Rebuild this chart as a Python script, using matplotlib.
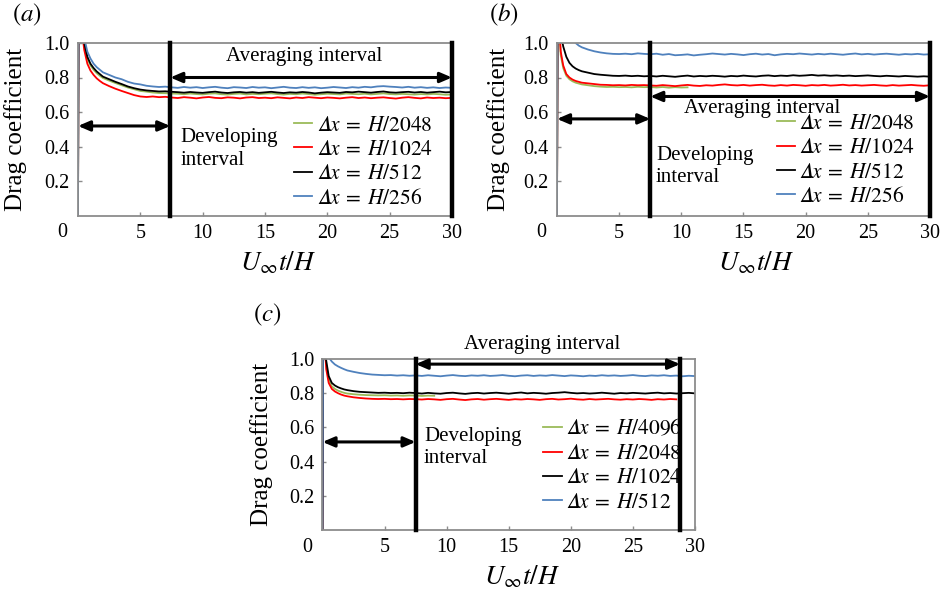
import numpy as np
import matplotlib
matplotlib.use("Agg")
import matplotlib.pyplot as plt

plt.rcParams['font.family'] = ['Liberation Serif', 'DejaVu Serif']
plt.rcParams['mathtext.fontset'] = 'stix'

# ---------------- data ----------------
t = [0, 0.05, 0.3, 0.5, 0.75, 1.0, 1.25, 1.5, 1.75,
     2.0, 2.5, 3.0, 3.5, 4.0, 4.5, 5.0, 5.5, 6.0, 6.5, 7.0, 7.5,
     8.0, 8.5, 9.0, 9.5, 10.0, 10.5, 11.0, 11.5, 12.0, 12.5, 13.0, 13.5, 14.0, 14.5,
     15.0, 15.5, 16.0, 16.5, 17.0, 17.5, 18.0, 18.5, 19.0, 19.5, 20.0, 20.5, 21.0, 21.5,
     22.0, 22.5, 23.0, 23.5, 24.0, 24.5, 25.0, 25.5, 26.0, 26.5, 27.0, 27.5, 28.0, 28.5,
     29.0, 29.5, 30.0]

# panel (a)
a_labels = ['H/2048', 'H/1024', 'H/512', 'H/256']
a_green = [0, 1.3, 1.1, 0.99, 0.91, 0.87, 0.845, 0.825, 0.81,
           0.797, 0.782, 0.768, 0.755, 0.742, 0.732, 0.722, 0.718, 0.713, 0.71, 0.709, 0.707,
           0.706, 0.703, 0.707, 0.704, 0.702, 0.706, 0.708, 0.703, 0.701, 0.705, 0.707, 0.702,
           0.705, 0.703, 0.706, 0.708, 0.704, 0.701, 0.705, 0.703, 0.707, 0.704, 0.700, 0.703,
           0.706, 0.704, 0.702, 0.707, 0.705, 0.703, 0.706, 0.702, 0.705, 0.708, 0.704, 0.702,
           0.705, 0.703, 0.701, 0.704, 0.702, 0.705, 0.703, 0.700, 0.702]
a_red = [0, 1.3, 1.08, 0.96, 0.88, 0.84, 0.815, 0.795, 0.78,
         0.767, 0.75, 0.735, 0.722, 0.71, 0.698, 0.69, 0.687, 0.69, 0.686, 0.688, 0.684,
         0.681, 0.686, 0.683, 0.679, 0.684, 0.687, 0.682, 0.680, 0.685, 0.683, 0.679, 0.684,
         0.686, 0.681, 0.683, 0.680, 0.685, 0.682, 0.679, 0.684, 0.681, 0.686, 0.683, 0.680,
         0.684, 0.682, 0.679, 0.683, 0.686, 0.681, 0.684, 0.680, 0.683, 0.685, 0.681, 0.678,
         0.683, 0.686, 0.682, 0.679, 0.684, 0.681, 0.683, 0.680, 0.682]
a_black = [0, 1.3, 1.12, 1.0, 0.92, 0.88, 0.855, 0.835, 0.82,
           0.805, 0.79, 0.775, 0.762, 0.748, 0.738, 0.73, 0.725, 0.722, 0.719, 0.72, 0.717,
           0.715, 0.712, 0.716, 0.713, 0.711, 0.715, 0.718, 0.713, 0.710, 0.714, 0.716, 0.712,
           0.715, 0.711, 0.714, 0.717, 0.713, 0.710, 0.714, 0.712, 0.716, 0.713, 0.708, 0.712,
           0.715, 0.713, 0.711, 0.716, 0.714, 0.718, 0.715, 0.712, 0.716, 0.719, 0.714, 0.712,
           0.715, 0.717, 0.713, 0.716, 0.712, 0.715, 0.718, 0.714, 0.716]
a_blue = [0, 1.3, 1.15, 1.03, 0.95, 0.91, 0.88, 0.86, 0.845,
          0.83, 0.815, 0.80, 0.79, 0.775, 0.765, 0.76, 0.752, 0.748, 0.745, 0.747, 0.743,
          0.740, 0.745, 0.741, 0.744, 0.739, 0.743, 0.746, 0.741, 0.738, 0.744, 0.742, 0.739,
          0.745, 0.741, 0.743, 0.738, 0.742, 0.746, 0.741, 0.739, 0.744, 0.740, 0.743, 0.738,
          0.741, 0.745, 0.742, 0.739, 0.744, 0.741, 0.746, 0.743, 0.748, 0.750, 0.747, 0.745,
          0.742, 0.746, 0.741, 0.744, 0.740, 0.743, 0.739, 0.742, 0.740]

# panel (b)
b_labels = ['H/2048', 'H/1024', 'H/512', 'H/256']
b_green = [0, 1.25, 0.93, 0.855, 0.81, 0.79, 0.778, 0.77, 0.765,
           0.76, 0.755, 0.75, 0.747, 0.745, 0.746, 0.744, 0.745, 0.743, 0.746, 0.744, 0.745,
           0.742, 0.745, 0.741, 0.744, 0.742, 0.743]
b_red = [0, 1.25, 0.95, 0.87, 0.82, 0.80, 0.788, 0.78, 0.775,
         0.77, 0.766, 0.762, 0.758, 0.757, 0.755, 0.756, 0.754, 0.757, 0.755, 0.756, 0.754,
         0.752, 0.756, 0.753, 0.750, 0.754, 0.757, 0.753, 0.751, 0.755, 0.753, 0.757, 0.760,
         0.756, 0.754, 0.757, 0.753, 0.756, 0.758, 0.754, 0.752, 0.756, 0.753, 0.757, 0.755,
         0.752, 0.756, 0.754, 0.757, 0.753, 0.755, 0.758, 0.754, 0.756, 0.753, 0.755, 0.757,
         0.754, 0.752, 0.756, 0.753, 0.755, 0.757, 0.754, 0.752, 0.755]
b_black = [0, 1.3, 1.06, 0.98, 0.92, 0.885, 0.865, 0.852, 0.843,
           0.836, 0.828, 0.82, 0.816, 0.813, 0.81, 0.809, 0.811, 0.808, 0.81, 0.807, 0.809,
           0.806, 0.810, 0.807, 0.804, 0.808, 0.811, 0.806, 0.809, 0.807, 0.810, 0.808, 0.805,
           0.809, 0.807, 0.811, 0.808, 0.806, 0.810, 0.812, 0.808, 0.811, 0.809, 0.813, 0.810,
           0.812, 0.815, 0.811, 0.813, 0.810, 0.812, 0.809, 0.811, 0.808, 0.810, 0.812, 0.809,
           0.807, 0.810, 0.808, 0.806, 0.809, 0.807, 0.805, 0.807, 0.805]
b_blue = [0, 1.4, 1.25, 1.18, 1.11, 1.06, 1.025, 1.0, 0.985,
          0.975, 0.962, 0.952, 0.945, 0.94, 0.937, 0.936, 0.938, 0.935, 0.94, 0.937, 0.935,
          0.938, 0.932, 0.936, 0.929, 0.931, 0.934, 0.928, 0.932, 0.935, 0.939, 0.936, 0.933,
          0.937, 0.934, 0.930, 0.935, 0.938, 0.933, 0.936, 0.929, 0.934, 0.937, 0.935, 0.939,
          0.936, 0.933, 0.937, 0.934, 0.938, 0.935, 0.932, 0.936, 0.939, 0.934, 0.937, 0.933,
          0.936, 0.938, 0.935, 0.932, 0.936, 0.934, 0.937, 0.933, 0.935]

# panel (c)
c_labels = ['H/4096', 'H/2048', 'H/1024', 'H/512']
c_green = [0, 1.3, 0.97, 0.88, 0.84, 0.825, 0.815, 0.808, 0.802,
           0.798, 0.794, 0.791, 0.789, 0.788, 0.787, 0.788, 0.786, 0.787, 0.785, 0.787, 0.786,
           0.784, 0.786, 0.785]
c_red = [0, 1.25, 0.94, 0.86, 0.825, 0.81, 0.8, 0.792, 0.786,
         0.782, 0.776, 0.772, 0.769, 0.767, 0.766, 0.767, 0.765, 0.766, 0.764, 0.766, 0.765,
         0.763, 0.766, 0.764, 0.761, 0.765, 0.767, 0.763, 0.760, 0.764, 0.766, 0.762, 0.765,
         0.767, 0.764, 0.761, 0.765, 0.763, 0.766, 0.764, 0.761, 0.765, 0.767, 0.763, 0.765,
         0.768, 0.764, 0.762, 0.766, 0.763, 0.765, 0.767, 0.764, 0.762, 0.765, 0.763, 0.766,
         0.764, 0.761, 0.765, 0.763, 0.766, 0.764]
c_black = [0, 1.3, 0.99, 0.9, 0.86, 0.845, 0.835, 0.828, 0.822,
           0.818, 0.812, 0.808, 0.806, 0.804, 0.802, 0.803, 0.801, 0.802, 0.800, 0.803, 0.801,
           0.798, 0.802, 0.799, 0.797, 0.801, 0.803, 0.799, 0.796, 0.800, 0.802, 0.798, 0.801,
           0.803, 0.800, 0.797, 0.801, 0.804, 0.799, 0.802, 0.800, 0.797, 0.801, 0.803, 0.806,
           0.802, 0.799, 0.801, 0.798, 0.800, 0.803, 0.800, 0.797, 0.801, 0.799, 0.802, 0.800,
           0.798, 0.801, 0.803, 0.799, 0.801, 0.798, 0.800, 0.802, 0.799]
c_blue = [0, 1.4, 1.1, 1.01, 0.985, 0.968, 0.957, 0.948, 0.94,
          0.933, 0.925, 0.918, 0.913, 0.909, 0.907, 0.905, 0.906, 0.903, 0.905, 0.902, 0.904,
          0.901, 0.905, 0.902, 0.899, 0.903, 0.906, 0.902, 0.900, 0.904, 0.902, 0.905, 0.901,
          0.903, 0.906, 0.902, 0.899, 0.903, 0.905, 0.901, 0.904, 0.902, 0.906, 0.903, 0.900,
          0.904, 0.902, 0.899, 0.903, 0.901, 0.905, 0.902, 0.904, 0.901, 0.903, 0.906, 0.902,
          0.900, 0.904, 0.902, 0.905, 0.901, 0.903, 0.899, 0.902, 0.900]

xticks = [5, 10, 15, 20, 25, 30]
yticks = [0.2, 0.4, 0.6, 0.8, 1.0]

# ---------------- styling ----------------
COL = {'green': '#9bbb59', 'red': '#ff0000', 'black': '#000000', 'blue': '#4f81bd'}
SPINE = '#8c8c8c'
DELTA_IT = '\U0001D6E5'

panels = [
    dict(name='a', rect=[78/945, 1-215.5/591, 374/945, 172.5/591],
         series=[a_green, a_red, a_black, a_blue], labels=a_labels,
         vlines=(7.4, 30), dev_y=0.519, avg_y=0.80,
         avg_text=(18.1, 0.92), dev_text=(8.2, 0.386),
         leg=(0.578, 0.58), ylab_x=-0.136, plabel=(27, 15)),
    dict(name='b', rect=[557/945, 1-215.5/591, 373/945, 172.5/591],
         series=[b_green, b_red, b_black, b_blue], labels=b_labels,
         vlines=(7.5, 30), dev_y=0.56, avg_y=0.69,
         avg_text=(16.5, 0.62), dev_text=(7.96, 0.283),
         leg=(0.589, 0.59), ylab_x=-0.126, plabel=(504, 15)),
    dict(name='c', rect=[322.5/945, 1-530/591, 372.5/945, 171/591],
         series=[c_green, c_red, c_black, c_blue], labels=c_labels,
         vlines=(7.5, 28.8), dev_y=0.515, avg_y=0.97,
         avg_text=(17.7, 1.086), dev_text=(8.17, 0.482),
         leg=(0.593, 0.652), ylab_x=-0.133, plabel=(267, 315)),
]

fig = plt.figure(figsize=(9.45, 5.91), dpi=100)
colors = [COL['green'], COL['red'], COL['black'], COL['blue']]

for p in panels:
    ax = fig.add_axes(p['rect'])
    handles = []
    for ys, c, lab in zip(p['series'], colors, p['labels']):
        h, = ax.plot(t[:len(ys)], ys, color=c, lw=1.3,
                     label='$' + DELTA_IT + r'x\:=\:H/' + lab.split('/')[1] + '$')
        handles.append(h)
    ax.set_xlim(0, 30)
    ax.set_ylim(0, 1.0)
    ax.set_xticks(xticks)
    ax.set_yticks(yticks)
    ax.set_yticklabels(['%.1f' % v for v in yticks])
    ax.tick_params(direction='in', length=3, width=1, color=SPINE,
                   labelsize=14.5, pad=6)
    ax.tick_params(axis='x', pad=6)
    for s in ax.spines.values():
        s.set_color(SPINE)
        s.set_linewidth(1.3)
    ax.annotate('0', xy=(0, 0), xycoords='axes fraction', xytext=(-11, -5.5),
                textcoords='offset points', ha='center', va='top', fontsize=14.5)
    # vertical interval lines
    for xv in p['vlines']:
        ax.axvline(xv, color='black', lw=3.2, clip_on=False, zorder=5)
    # arrows
    arrow = dict(arrowstyle='<|-|>,head_length=0.7,head_width=0.3', color='black',
                 lw=2.2, shrinkA=0, shrinkB=0)
    ax.annotate('', xy=(p['vlines'][0], p['dev_y']), xytext=(0, p['dev_y']),
                arrowprops=arrow, annotation_clip=False)
    ax.annotate('', xy=(p['vlines'][1], p['avg_y']), xytext=(p['vlines'][0], p['avg_y']),
                arrowprops=arrow, annotation_clip=False)
    ax.text(p['avg_text'][0], p['avg_text'][1], 'Averaging interval', ha='center',
            va='center', fontsize=15, clip_on=False)
    ax.text(p['dev_text'][0], p['dev_text'][1], 'Developing\ninterval', ha='left',
            va='center', fontsize=15, linespacing=1.25)
    ax.legend(handles=handles, loc='upper left', bbox_to_anchor=p['leg'],
              frameon=False, fontsize=15.5, handlelength=0.85, handletextpad=0.2,
              labelspacing=0.2, borderpad=0, borderaxespad=0)
    ax.set_ylabel('Drag coefficient', fontsize=18)
    ax.yaxis.set_label_coords(p['ylab_x'], 0.5)
    ax.set_xlabel(r'$U_{\infty}t/H$', fontsize=19.5, labelpad=3)
    ax.xaxis.set_label_coords(0.535, -0.2)
    ax.xaxis.label.set_va('top')
    fig.text(p['plabel'][0]/945, 1-p['plabel'][1]/591, r'$(\mathit{' + p['name'] + r'})$',
             ha='center', va='center', fontsize=18)

fig.savefig('out.png', dpi=100)
